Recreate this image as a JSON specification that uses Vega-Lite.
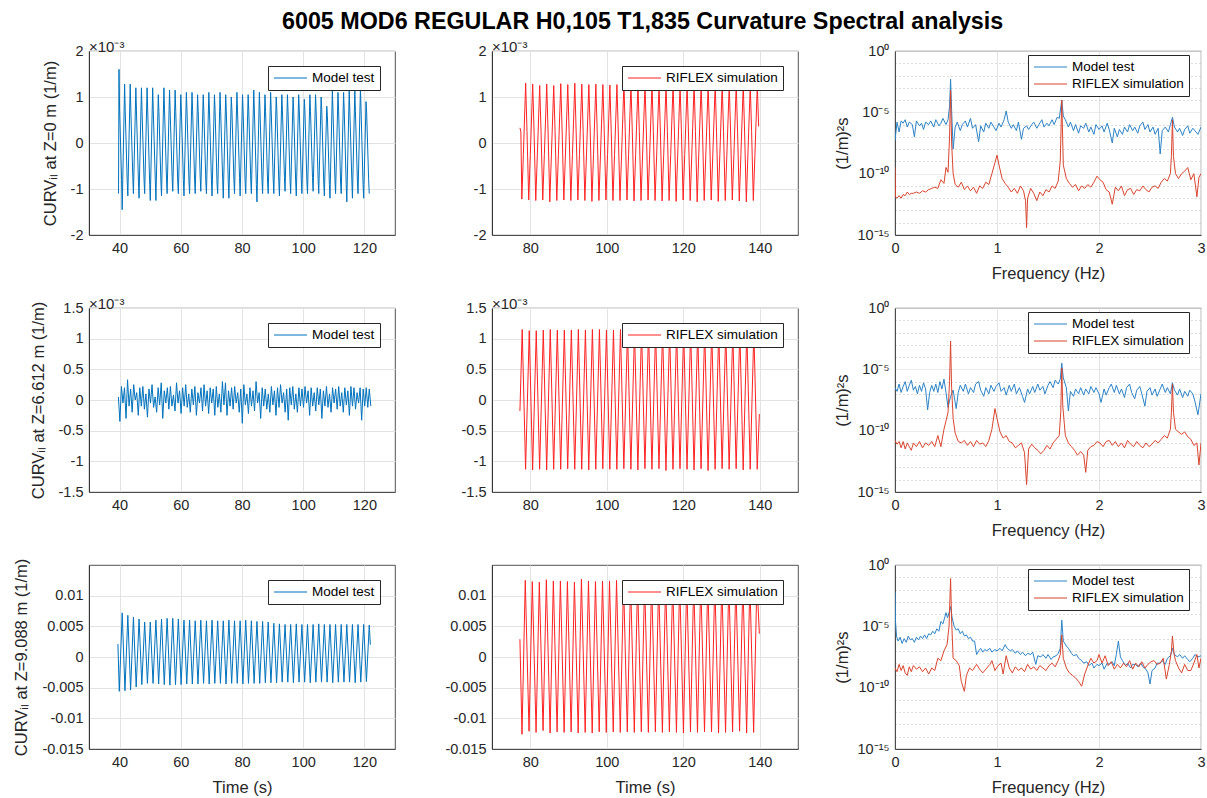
{
"$schema": "https://vega.github.io/schema/vega-lite/v6.json",
"padding": {"left": 13, "top": 10, "right": 5, "bottom": 5},
"background": "white",
"title": {"text": "6005 MOD6 REGULAR H0,105 T1,835 Curvature Spectral analysis", "anchor": "start", "frame": "group", "dx": 193, "dy": -1, "fontSize": 23.3, "fontWeight": "bold", "font": "Liberation Sans", "color": "#000000", "offset": 4},
"config": {
  "font": "Liberation Sans",
  "view": {"stroke": "#262626", "strokeWidth": 0.8},
  "axis": {"labelFont": "Liberation Sans", "labelFontSize": 14.5, "labelColor": "#262626", "titleFont": "Liberation Sans", "titleFontSize": 16.5, "titleFontWeight": "normal", "titleColor": "#262626", "domainColor": "#262626", "domainWidth": 0.8, "gridColor": "#e3e3e3", "gridWidth": 1, "ticks": false, "labelPadding": 6, "titlePadding": 5, "labelFlush": false, "labelOverlap": false},
  "axisX": {"titlePadding": 11},
  "axisY": {"titlePadding": 12},
  "legend": {"symbolType": "M-1,0H4.5", "symbolSize": 144, "symbolStrokeWidth": 1.2, "labelFont": "Liberation Sans", "labelFontSize": 13.5, "labelColor": "#000000", "strokeColor": "#262626", "fillColor": "white", "padding": 5, "rowPadding": 3, "labelOffset": 25, "labelLimit": 0},
  "title": {"font": "Liberation Sans"}
},
"resolve": {"scale": {"color": "independent"}, "legend": {"color": "independent"}},
"columns": 3,
"spacing": {"row": 73, "column": 97},
"bounds": "flush",
"datasets": {
"a": [
{"t":39.65,"v":-1.1},
{"t":39.8,"v":1.6},{"t":40.0,"v":0.72},{"t":40.65,"v":-0.8},{"t":40.85,"v":-1.45},
{"t":41.64,"v":1.28},{"t":41.84,"v":0.7},{"t":42.49,"v":-0.85},{"t":42.69,"v":-1.15},
{"t":43.47,"v":1.28},{"t":43.67,"v":0.72},{"t":44.32,"v":-0.75},{"t":44.52,"v":-1.1},
{"t":45.31,"v":1.2},{"t":45.51,"v":0.7},{"t":46.16,"v":-0.85},{"t":46.36,"v":-1.2},
{"t":47.14,"v":1.2},{"t":47.34,"v":0.68},{"t":47.99,"v":-0.8},{"t":48.19,"v":-1.1},
{"t":48.98,"v":1.2},{"t":49.18,"v":0.72},{"t":49.83,"v":-0.9},{"t":50.03,"v":-1.25},
{"t":50.81,"v":1.2},{"t":51.01,"v":0.7},{"t":51.66,"v":-0.8},{"t":51.86,"v":-1.25},
{"t":52.65,"v":1.05},{"t":52.85,"v":0.68},{"t":53.5,"v":-0.85},{"t":53.7,"v":-1.15},
{"t":54.48,"v":1.2},{"t":54.68,"v":0.72},{"t":55.33,"v":-0.8},{"t":55.53,"v":-1.1},
{"t":56.32,"v":1.15},{"t":56.52,"v":0.7},{"t":57.17,"v":-0.75},{"t":57.37,"v":-1.05},
{"t":58.15,"v":1.15},{"t":58.35,"v":0.68},{"t":59.0,"v":-0.85},{"t":59.2,"v":-1.1},
{"t":59.99,"v":1.05},{"t":60.19,"v":0.7},{"t":60.84,"v":-0.8},{"t":61.04,"v":-1.15},
{"t":61.82,"v":1.1},{"t":62.02,"v":0.72},{"t":62.67,"v":-0.85},{"t":62.87,"v":-1.1},
{"t":63.66,"v":1.1},{"t":63.86,"v":0.7},{"t":64.51,"v":-0.8},{"t":64.71,"v":-1.1},
{"t":65.49,"v":1.05},{"t":65.69,"v":0.68},{"t":66.34,"v":-0.75},{"t":66.54,"v":-1.05},
{"t":67.33,"v":1.05},{"t":67.53,"v":0.7},{"t":68.18,"v":-0.85},{"t":68.38,"v":-1.1},
{"t":69.16,"v":1.1},{"t":69.36,"v":0.72},{"t":70.01,"v":-0.8},{"t":70.21,"v":-1.15},
{"t":71.0,"v":1.05},{"t":71.2,"v":0.7},{"t":71.85,"v":-0.9},{"t":72.05,"v":-1.1},
{"t":72.83,"v":1.1},{"t":73.03,"v":0.68},{"t":73.68,"v":-0.8},{"t":73.88,"v":-1.2},
{"t":74.67,"v":1.05},{"t":74.87,"v":0.7},{"t":75.52,"v":-0.85},{"t":75.72,"v":-1.2},
{"t":76.5,"v":1.0},{"t":76.7,"v":0.72},{"t":77.35,"v":-0.8},{"t":77.55,"v":-1.1},
{"t":78.34,"v":1.1},{"t":78.54,"v":0.7},{"t":79.19,"v":-0.75},{"t":79.39,"v":-1.15},
{"t":80.17,"v":1.05},{"t":80.37,"v":0.68},{"t":81.02,"v":-0.85},{"t":81.22,"v":-1.1},
{"t":82.01,"v":1.05},{"t":82.21,"v":0.7},{"t":82.86,"v":-0.8},{"t":83.06,"v":-1.1},
{"t":83.84,"v":1.15},{"t":84.04,"v":0.72},{"t":84.69,"v":-0.9},{"t":84.89,"v":-1.28},
{"t":85.68,"v":1.1},{"t":85.88,"v":0.7},{"t":86.53,"v":-0.8},{"t":86.73,"v":-1.1},
{"t":87.51,"v":1.05},{"t":87.71,"v":0.68},{"t":88.36,"v":-0.85},{"t":88.56,"v":-1.1},
{"t":89.35,"v":1.1},{"t":89.55,"v":0.7},{"t":90.2,"v":-0.8},{"t":90.4,"v":-1.1},
{"t":91.18,"v":1.0},{"t":91.38,"v":0.72},{"t":92.03,"v":-0.85},{"t":92.23,"v":-1.15},
{"t":93.02,"v":1.05},{"t":93.22,"v":0.7},{"t":93.87,"v":-0.75},{"t":94.07,"v":-1.05},
{"t":94.85,"v":1.05},{"t":95.05,"v":0.68},{"t":95.7,"v":-0.8},{"t":95.9,"v":-1.1},
{"t":96.69,"v":1.0},{"t":96.89,"v":0.7},{"t":97.54,"v":-0.85},{"t":97.74,"v":-1.15},
{"t":98.52,"v":1.05},{"t":98.72,"v":0.72},{"t":99.37,"v":-0.8},{"t":99.57,"v":-1.1},
{"t":100.36,"v":0.95},{"t":100.56,"v":0.7},{"t":101.21,"v":-0.85},{"t":101.41,"v":-1.1},
{"t":102.19,"v":1.05},{"t":102.39,"v":0.68},{"t":103.04,"v":-0.75},{"t":103.24,"v":-1.05},
{"t":104.03,"v":1.05},{"t":104.23,"v":0.7},{"t":104.88,"v":-0.8},{"t":105.08,"v":-1.1},
{"t":105.86,"v":1.0},{"t":106.06,"v":0.72},{"t":106.71,"v":-0.85},{"t":106.91,"v":-1.15},
{"t":107.7,"v":0.8},{"t":107.9,"v":0.6},{"t":108.55,"v":-0.9},{"t":108.75,"v":-1.2},
{"t":109.53,"v":1.15},{"t":109.73,"v":0.7},{"t":110.38,"v":-0.8},{"t":110.58,"v":-1.1},
{"t":111.37,"v":1.1},{"t":111.57,"v":0.7},{"t":112.22,"v":-0.85},{"t":112.42,"v":-1.1},
{"t":113.2,"v":1.1},{"t":113.4,"v":0.72},{"t":114.05,"v":-0.9},{"t":114.25,"v":-1.28},
{"t":115.04,"v":1.15},{"t":115.24,"v":0.7},{"t":115.89,"v":-0.8},{"t":116.09,"v":-1.2},
{"t":116.87,"v":1.15},{"t":117.07,"v":0.68},{"t":117.72,"v":-0.85},{"t":117.92,"v":-1.1},
{"t":118.71,"v":1.2},{"t":118.91,"v":0.72},{"t":119.56,"v":-0.9},{"t":119.76,"v":-1.2},
{"t":120.54,"v":0.9},{"t":120.74,"v":0.65},{"t":121.39,"v":-0.8},{"t":121.59,"v":-1.1}
],
"b": [
{"t":77.32,"v":0.33},{"t":77.55,"v":0.24},{"t":77.8,"v":-1.22},{"t":78.2,"v":-0.25},
{"t":78.8,"v":1.3},{"t":79.15,"v":0.25},{"t":79.6,"v":-1.24},{"t":80.02,"v":-0.25},
{"t":80.64,"v":1.28},{"t":80.99,"v":0.26},{"t":81.44,"v":-1.25},{"t":81.86,"v":-0.24},
{"t":82.47,"v":1.25},{"t":82.82,"v":0.25},{"t":83.27,"v":-1.24},{"t":83.69,"v":-0.25},
{"t":84.31,"v":1.28},{"t":84.66,"v":0.24},{"t":85.11,"v":-1.28},{"t":85.53,"v":-0.26},
{"t":86.14,"v":1.25},{"t":86.49,"v":0.25},{"t":86.94,"v":-1.25},{"t":87.36,"v":-0.25},
{"t":87.98,"v":1.29},{"t":88.33,"v":0.26},{"t":88.78,"v":-1.24},{"t":89.2,"v":-0.24},
{"t":89.81,"v":1.27},{"t":90.16,"v":0.25},{"t":90.61,"v":-1.25},{"t":91.03,"v":-0.25},
{"t":91.65,"v":1.3},{"t":92.0,"v":0.24},{"t":92.45,"v":-1.24},{"t":92.87,"v":-0.25},
{"t":93.48,"v":1.28},{"t":93.83,"v":0.25},{"t":94.28,"v":-1.25},{"t":94.7,"v":-0.26},
{"t":95.32,"v":1.27},{"t":95.67,"v":0.26},{"t":96.12,"v":-1.27},{"t":96.54,"v":-0.25},
{"t":97.15,"v":1.28},{"t":97.5,"v":0.25},{"t":97.95,"v":-1.25},{"t":98.37,"v":-0.24},
{"t":98.99,"v":1.27},{"t":99.34,"v":0.24},{"t":99.79,"v":-1.24},{"t":100.21,"v":-0.25},
{"t":100.82,"v":1.26},{"t":101.17,"v":0.25},{"t":101.62,"v":-1.25},{"t":102.04,"v":-0.25},
{"t":102.66,"v":1.27},{"t":103.01,"v":0.26},{"t":103.46,"v":-1.25},{"t":103.88,"v":-0.26},
{"t":104.49,"v":1.31},{"t":104.84,"v":0.25},{"t":105.29,"v":-1.24},{"t":105.71,"v":-0.25},
{"t":106.33,"v":1.27},{"t":106.68,"v":0.24},{"t":107.13,"v":-1.26},{"t":107.55,"v":-0.25},
{"t":108.16,"v":1.28},{"t":108.51,"v":0.25},{"t":108.96,"v":-1.25},{"t":109.38,"v":-0.24},
{"t":110.0,"v":1.27},{"t":110.35,"v":0.26},{"t":110.8,"v":-1.24},{"t":111.22,"v":-0.25},
{"t":111.83,"v":1.28},{"t":112.18,"v":0.25},{"t":112.63,"v":-1.25},{"t":113.05,"v":-0.26},
{"t":113.67,"v":1.26},{"t":114.02,"v":0.24},{"t":114.47,"v":-1.26},{"t":114.89,"v":-0.25},
{"t":115.5,"v":1.27},{"t":115.85,"v":0.25},{"t":116.3,"v":-1.25},{"t":116.72,"v":-0.25},
{"t":117.34,"v":1.28},{"t":117.69,"v":0.26},{"t":118.14,"v":-1.27},{"t":118.56,"v":-0.24},
{"t":119.17,"v":1.27},{"t":119.52,"v":0.25},{"t":119.97,"v":-1.24},{"t":120.39,"v":-0.25},
{"t":121.01,"v":1.26},{"t":121.36,"v":0.24},{"t":121.81,"v":-1.25},{"t":122.23,"v":-0.26},
{"t":122.84,"v":1.28},{"t":123.19,"v":0.25},{"t":123.64,"v":-1.28},{"t":124.06,"v":-0.25},
{"t":124.68,"v":1.27},{"t":125.03,"v":0.26},{"t":125.48,"v":-1.25},{"t":125.9,"v":-0.25},
{"t":126.51,"v":1.26},{"t":126.86,"v":0.25},{"t":127.31,"v":-1.24},{"t":127.73,"v":-0.24},
{"t":128.35,"v":1.28},{"t":128.7,"v":0.24},{"t":129.15,"v":-1.27},{"t":129.57,"v":-0.25},
{"t":130.18,"v":1.27},{"t":130.53,"v":0.25},{"t":130.98,"v":-1.25},{"t":131.4,"v":-0.26},
{"t":132.02,"v":1.26},{"t":132.37,"v":0.26},{"t":132.82,"v":-1.24},{"t":133.24,"v":-0.25},
{"t":133.85,"v":1.28},{"t":134.2,"v":0.25},{"t":134.65,"v":-1.26},{"t":135.07,"v":-0.25},
{"t":135.69,"v":1.27},{"t":136.04,"v":0.24},{"t":136.49,"v":-1.28},{"t":136.91,"v":-0.24},
{"t":137.52,"v":1.26},{"t":137.87,"v":0.25},{"t":138.32,"v":-1.25},{"t":138.74,"v":-0.25},
{"t":139.36,"v":1.25},{"t":139.71,"v":0.36}
],
"c": [
{"t":39.6,"v":0.05},{"t":40.1,"v":-0.35},{"t":40.6,"v":0.22},{"t":41.1,"v":-0.05},{"t":41.6,"v":0.2},{"t":42.1,"v":-0.3},{"t":42.6,"v":0.33},{"t":43.1,"v":-0.1},{"t":43.6,"v":0.18},{"t":44.1,"v":-0.2},
{"t":44.6,"v":0.25},{"t":45.1,"v":0.0},{"t":45.6,"v":0.12},{"t":46.1,"v":-0.25},{"t":46.6,"v":0.2},{"t":47.1,"v":-0.1},{"t":47.6,"v":0.22},{"t":48.1,"v":-0.15},{"t":48.6,"v":0.1},{"t":49.1,"v":-0.28},
{"t":49.6,"v":0.18},{"t":50.1,"v":-0.05},{"t":50.6,"v":0.25},{"t":51.1,"v":-0.12},{"t":51.6,"v":0.05},{"t":52.1,"v":-0.2},{"t":52.6,"v":0.2},{"t":53.1,"v":-0.08},{"t":53.6,"v":0.28},{"t":54.1,"v":-0.3},
{"t":54.6,"v":0.15},{"t":55.1,"v":-0.05},{"t":55.6,"v":0.2},{"t":56.1,"v":-0.15},{"t":56.6,"v":0.22},{"t":57.1,"v":-0.1},{"t":57.6,"v":0.08},{"t":58.1,"v":-0.18},{"t":58.6,"v":0.28},{"t":59.1,"v":-0.05},
{"t":59.6,"v":0.15},{"t":60.1,"v":-0.22},{"t":60.6,"v":0.2},{"t":61.1,"v":-0.1},{"t":61.6,"v":0.25},{"t":62.1,"v":-0.12},{"t":62.6,"v":0.1},{"t":63.1,"v":-0.2},{"t":63.6,"v":0.18},{"t":64.1,"v":-0.08},
{"t":64.6,"v":0.22},{"t":65.1,"v":-0.25},{"t":65.6,"v":0.12},{"t":66.1,"v":-0.05},{"t":66.6,"v":0.2},{"t":67.1,"v":-0.18},{"t":67.6,"v":0.25},{"t":68.1,"v":-0.1},{"t":68.6,"v":0.15},{"t":69.1,"v":-0.22},
{"t":69.6,"v":0.2},{"t":70.1,"v":-0.05},{"t":70.6,"v":0.18},{"t":71.1,"v":-0.25},{"t":71.6,"v":0.22},{"t":72.1,"v":-0.12},{"t":72.6,"v":0.1},{"t":73.1,"v":-0.2},{"t":73.6,"v":0.3},{"t":74.1,"v":-0.08},
{"t":74.6,"v":0.28},{"t":75.1,"v":-0.25},{"t":75.6,"v":0.15},{"t":76.1,"v":-0.1},{"t":76.6,"v":0.2},{"t":77.1,"v":-0.15},{"t":77.6,"v":0.22},{"t":78.1,"v":-0.05},{"t":78.6,"v":0.12},{"t":79.1,"v":-0.2},
{"t":79.6,"v":0.18},{"t":80.1,"v":-0.38},{"t":80.6,"v":0.25},{"t":81.1,"v":-0.08},{"t":81.6,"v":0.1},{"t":82.1,"v":-0.22},{"t":82.6,"v":0.2},{"t":83.1,"v":-0.1},{"t":83.6,"v":0.15},{"t":84.1,"v":-0.18},
{"t":84.6,"v":0.3},{"t":85.1,"v":-0.05},{"t":85.6,"v":0.12},{"t":86.1,"v":-0.3},{"t":86.6,"v":0.2},{"t":87.1,"v":-0.1},{"t":87.6,"v":0.18},{"t":88.1,"v":-0.15},{"t":88.6,"v":0.1},{"t":89.1,"v":-0.2},
{"t":89.6,"v":0.22},{"t":90.1,"v":-0.08},{"t":90.6,"v":0.15},{"t":91.1,"v":-0.25},{"t":91.6,"v":0.2},{"t":92.1,"v":-0.12},{"t":92.6,"v":0.25},{"t":93.1,"v":-0.05},{"t":93.6,"v":0.12},{"t":94.1,"v":-0.2},
{"t":94.6,"v":0.18},{"t":95.1,"v":-0.33},{"t":95.6,"v":0.2},{"t":96.1,"v":-0.08},{"t":96.6,"v":0.22},{"t":97.1,"v":-0.15},{"t":97.6,"v":0.1},{"t":98.1,"v":-0.2},{"t":98.6,"v":0.2},{"t":99.1,"v":-0.1},
{"t":99.6,"v":0.18},{"t":100.1,"v":-0.12},{"t":100.6,"v":0.22},{"t":101.1,"v":-0.05},{"t":101.6,"v":0.15},{"t":102.1,"v":-0.25},{"t":102.6,"v":0.2},{"t":103.1,"v":-0.1},{"t":103.6,"v":0.12},{"t":104.1,"v":-0.18},
{"t":104.6,"v":0.2},{"t":105.1,"v":-0.08},{"t":105.6,"v":0.18},{"t":106.1,"v":-0.3},{"t":106.6,"v":0.15},{"t":107.1,"v":-0.1},{"t":107.6,"v":0.22},{"t":108.1,"v":-0.12},{"t":108.6,"v":0.1},{"t":109.1,"v":-0.2},
{"t":109.6,"v":0.2},{"t":110.1,"v":-0.05},{"t":110.6,"v":0.18},{"t":111.1,"v":-0.15},{"t":111.6,"v":0.22},{"t":112.1,"v":-0.1},{"t":112.6,"v":0.12},{"t":113.1,"v":-0.2},{"t":113.6,"v":0.2},{"t":114.1,"v":-0.08},
{"t":114.6,"v":0.15},{"t":115.1,"v":-0.25},{"t":115.6,"v":0.22},{"t":116.1,"v":-0.1},{"t":116.6,"v":0.2},{"t":117.1,"v":-0.15},{"t":117.6,"v":0.12},{"t":118.1,"v":-0.05},{"t":118.6,"v":0.2},{"t":119.1,"v":-0.33},
{"t":119.6,"v":0.18},{"t":120.1,"v":-0.1},{"t":120.6,"v":0.2},{"t":121.1,"v":-0.12},{"t":121.6,"v":0.18},{"t":122.1,"v":-0.1}
],
"d": [
{"t":77.3,"v":-0.18},
{"t":77.9,"v":1.15},{"t":78.78,"v":-1.13},{"t":79.74,"v":1.13},{"t":80.62,"v":-1.14},{"t":81.57,"v":1.13},{"t":82.45,"v":-1.13},{"t":83.41,"v":1.14},{"t":84.29,"v":-1.14},
{"t":85.24,"v":1.15},{"t":86.12,"v":-1.13},{"t":87.08,"v":1.14},{"t":87.96,"v":-1.13},{"t":88.91,"v":1.14},{"t":89.79,"v":-1.12},{"t":90.75,"v":1.14},{"t":91.63,"v":-1.13},
{"t":92.58,"v":1.15},{"t":93.46,"v":-1.13},{"t":94.42,"v":1.14},{"t":95.3,"v":-1.14},{"t":96.25,"v":1.15},{"t":97.13,"v":-1.13},{"t":98.09,"v":1.15},{"t":98.97,"v":-1.12},
{"t":99.92,"v":1.14},{"t":100.8,"v":-1.13},{"t":101.76,"v":1.14},{"t":102.64,"v":-1.13},{"t":103.59,"v":1.15},{"t":104.47,"v":-1.12},{"t":105.43,"v":1.14},{"t":106.31,"v":-1.13},
{"t":107.26,"v":1.14},{"t":108.14,"v":-1.14},{"t":109.1,"v":1.15},{"t":109.98,"v":-1.12},{"t":110.93,"v":1.14},{"t":111.81,"v":-1.13},{"t":112.77,"v":1.14},{"t":113.65,"v":-1.12},
{"t":114.6,"v":1.15},{"t":115.48,"v":-1.15},{"t":116.44,"v":1.14},{"t":117.32,"v":-1.13},{"t":118.27,"v":1.14},{"t":119.15,"v":-1.12},{"t":120.11,"v":1.15},{"t":120.99,"v":-1.13},
{"t":121.94,"v":1.14},{"t":122.82,"v":-1.14},{"t":123.78,"v":1.14},{"t":124.66,"v":-1.12},{"t":125.61,"v":1.15},{"t":126.49,"v":-1.15},{"t":127.45,"v":1.14},{"t":128.33,"v":-1.13},
{"t":129.28,"v":1.14},{"t":130.16,"v":-1.12},{"t":131.12,"v":1.15},{"t":132.0,"v":-1.13},{"t":132.95,"v":1.14},{"t":133.83,"v":-1.12},{"t":134.79,"v":1.14},{"t":135.67,"v":-1.14},
{"t":136.62,"v":1.15},{"t":137.5,"v":-1.13},{"t":138.46,"v":1.14},{"t":139.34,"v":-1.13},
{"t":139.9,"v":-0.23}
],
"e": [
{"t":39.45,"v":0.0021},{"t":39.9,"v":-0.0056},
{"t":40.85,"v":0.0072},{"t":41.75,"v":-0.0055},{"t":42.69,"v":0.0068},{"t":43.59,"v":-0.0054},{"t":44.52,"v":0.0065},{"t":45.42,"v":-0.0049},
{"t":46.36,"v":0.0062},{"t":47.26,"v":-0.0045},{"t":48.19,"v":0.0057},{"t":49.09,"v":-0.0043},{"t":50.03,"v":0.0057},{"t":50.93,"v":-0.0043},
{"t":51.86,"v":0.006},{"t":52.76,"v":-0.0044},{"t":53.7,"v":0.0062},{"t":54.6,"v":-0.0045},{"t":55.53,"v":0.0063},{"t":56.43,"v":-0.0046},
{"t":57.37,"v":0.0063},{"t":58.27,"v":-0.0045},{"t":59.2,"v":0.0062},{"t":60.1,"v":-0.0045},{"t":61.04,"v":0.006},{"t":61.94,"v":-0.0044},
{"t":62.87,"v":0.006},{"t":63.77,"v":-0.0044},{"t":64.71,"v":0.0059},{"t":65.61,"v":-0.0044},{"t":66.54,"v":0.006},{"t":67.44,"v":-0.0043},
{"t":68.38,"v":0.0059},{"t":69.28,"v":-0.0044},{"t":70.21,"v":0.006},{"t":71.11,"v":-0.0043},{"t":72.05,"v":0.0059},{"t":72.95,"v":-0.0043},
{"t":73.88,"v":0.0059},{"t":74.78,"v":-0.0044},{"t":75.72,"v":0.006},{"t":76.62,"v":-0.0043},{"t":77.55,"v":0.0059},{"t":78.45,"v":-0.0043},
{"t":79.39,"v":0.0059},{"t":80.29,"v":-0.0044},{"t":81.22,"v":0.006},{"t":82.12,"v":-0.0043},{"t":83.06,"v":0.0059},{"t":83.96,"v":-0.0043},
{"t":84.89,"v":0.0058},{"t":85.79,"v":-0.0043},{"t":86.73,"v":0.0058},{"t":87.63,"v":-0.0042},{"t":88.56,"v":0.0057},{"t":89.46,"v":-0.0042},
{"t":90.4,"v":0.0055},{"t":91.3,"v":-0.0042},{"t":92.23,"v":0.0054},{"t":93.13,"v":-0.0041},{"t":94.07,"v":0.0053},{"t":94.97,"v":-0.0041},
{"t":95.9,"v":0.0053},{"t":96.8,"v":-0.0042},{"t":97.74,"v":0.0054},{"t":98.64,"v":-0.0041},{"t":99.57,"v":0.0053},{"t":100.47,"v":-0.0041},
{"t":101.41,"v":0.0053},{"t":102.31,"v":-0.0042},{"t":103.24,"v":0.0053},{"t":104.14,"v":-0.0041},{"t":105.08,"v":0.0054},{"t":105.98,"v":-0.0041},
{"t":106.91,"v":0.0053},{"t":107.81,"v":-0.0041},{"t":108.75,"v":0.0053},{"t":109.65,"v":-0.0042},{"t":110.58,"v":0.0053},{"t":111.48,"v":-0.0041},
{"t":112.42,"v":0.0053},{"t":113.32,"v":-0.0041},{"t":114.25,"v":0.0053},{"t":115.15,"v":-0.0041},{"t":116.09,"v":0.0053},{"t":116.99,"v":-0.0042},
{"t":117.92,"v":0.0053},{"t":118.82,"v":-0.0041},{"t":119.76,"v":0.0053},{"t":120.66,"v":-0.004},{"t":121.59,"v":0.0052},{"t":121.95,"v":0.002}
],
"f": [
{"t":77.3,"v":0.0029},{"t":77.84,"v":-0.0126},
{"t":78.7,"v":0.0125},{"t":79.68,"v":-0.0121},{"t":80.54,"v":0.0123},{"t":81.52,"v":-0.0123},{"t":82.37,"v":0.0122},{"t":83.35,"v":-0.012},
{"t":84.21,"v":0.0126},{"t":85.19,"v":-0.0124},{"t":86.04,"v":0.0124},{"t":87.02,"v":-0.0122},{"t":87.88,"v":0.0124},{"t":88.86,"v":-0.0123},
{"t":89.71,"v":0.0123},{"t":90.69,"v":-0.0122},{"t":91.55,"v":0.0122},{"t":92.53,"v":-0.0124},{"t":93.38,"v":0.0127},{"t":94.36,"v":-0.0123},
{"t":95.22,"v":0.0124},{"t":96.2,"v":-0.0124},{"t":97.05,"v":0.0123},{"t":98.03,"v":-0.0122},{"t":98.89,"v":0.0124},{"t":99.87,"v":-0.0123},
{"t":100.72,"v":0.0124},{"t":101.7,"v":-0.0122},{"t":102.56,"v":0.0125},{"t":103.54,"v":-0.0123},{"t":104.39,"v":0.0123},{"t":105.37,"v":-0.0122},
{"t":106.23,"v":0.0124},{"t":107.21,"v":-0.0123},{"t":108.06,"v":0.0123},{"t":109.04,"v":-0.0122},{"t":109.9,"v":0.0124},{"t":110.88,"v":-0.0123},
{"t":111.73,"v":0.0123},{"t":112.71,"v":-0.0122},{"t":113.57,"v":0.0124},{"t":114.55,"v":-0.0123},{"t":115.4,"v":0.0123},{"t":116.38,"v":-0.0122},
{"t":117.24,"v":0.0124},{"t":118.22,"v":-0.0123},{"t":119.07,"v":0.0123},{"t":120.05,"v":-0.0124},{"t":120.91,"v":0.0124},{"t":121.89,"v":-0.0122},
{"t":122.74,"v":0.0123},{"t":123.72,"v":-0.0123},{"t":124.58,"v":0.0124},{"t":125.56,"v":-0.0122},{"t":126.41,"v":0.0123},{"t":127.39,"v":-0.0122},
{"t":128.25,"v":0.0124},{"t":129.23,"v":-0.0124},{"t":130.08,"v":0.0123},{"t":131.06,"v":-0.0123},{"t":131.92,"v":0.0124},{"t":132.9,"v":-0.0122},
{"t":133.75,"v":0.0123},{"t":134.73,"v":-0.0121},{"t":135.59,"v":0.0124},{"t":136.57,"v":-0.0124},{"t":137.42,"v":0.0123},{"t":138.4,"v":-0.0123},
{"t":139.26,"v":0.0123},{"t":139.9,"v":0.0038}
],
"s1m": [
{"f":0.0,"p":5e-8},{"f":0.02,"p":1.6e-6},{"f":0.04,"p":2.5e-7},{"f":0.06,"p":2e-6},{"f":0.08,"p":1.3e-6},{"f":0.1,"p":2.5e-6},{"f":0.12,"p":6.3e-7},{"f":0.14,"p":1.6e-6},{"f":0.17,"p":1e-6},{"f":0.19,"p":1e-7},
{"f":0.21,"p":2e-6},{"f":0.24,"p":7.9e-7},{"f":0.26,"p":1.3e-6},{"f":0.28,"p":4e-7},{"f":0.3,"p":1.6e-6},{"f":0.33,"p":1e-6},{"f":0.35,"p":2e-6},{"f":0.38,"p":6.3e-7},{"f":0.4,"p":2.5e-6},{"f":0.43,"p":7.9e-7},
{"f":0.45,"p":1.3e-6},{"f":0.47,"p":3.2e-6},{"f":0.5,"p":1e-6},{"f":0.52,"p":2.5e-6},{"f":0.535,"p":3.2e-5},{"f":0.545,"p":5e-3},{"f":0.555,"p":1.6e-5},{"f":0.57,"p":1e-8},{"f":0.59,"p":6.3e-7},{"f":0.61,"p":1.6e-6},
{"f":0.64,"p":3.2e-7},{"f":0.66,"p":1e-6},{"f":0.69,"p":2e-6},{"f":0.71,"p":6.3e-7},{"f":0.74,"p":3.2e-6},{"f":0.76,"p":5e-7},{"f":0.79,"p":1e-6},{"f":0.82,"p":4e-8},{"f":0.84,"p":7.9e-7},{"f":0.87,"p":2.5e-7},
{"f":0.89,"p":1.3e-6},{"f":0.92,"p":5e-7},{"f":0.94,"p":1.6e-6},{"f":0.97,"p":6.3e-7},{"f":0.99,"p":3.2e-7},{"f":1.02,"p":1.3e-6},{"f":1.04,"p":6.3e-7},{"f":1.07,"p":2.5e-6},{"f":1.09,"p":1.3e-5},{"f":1.11,"p":1.6e-6},
{"f":1.14,"p":5e-7},{"f":1.16,"p":1e-6},{"f":1.19,"p":3.2e-7},{"f":1.21,"p":1.6e-6},{"f":1.24,"p":6.3e-8},{"f":1.26,"p":5e-7},{"f":1.29,"p":7.9e-7},{"f":1.31,"p":4e-7},{"f":1.34,"p":1e-6},{"f":1.36,"p":1.6e-6},
{"f":1.39,"p":5e-7},{"f":1.41,"p":1e-6},{"f":1.44,"p":2.5e-6},{"f":1.46,"p":6.3e-7},{"f":1.49,"p":1.3e-6},{"f":1.51,"p":7.9e-7},{"f":1.54,"p":2.5e-6},{"f":1.56,"p":1e-6},{"f":1.59,"p":4e-6},{"f":1.61,"p":3.2e-6},
{"f":1.635,"p":1e-4},{"f":1.65,"p":5e-6},{"f":1.67,"p":2.5e-6},{"f":1.7,"p":6.3e-7},{"f":1.72,"p":1.6e-6},{"f":1.75,"p":3.2e-7},{"f":1.77,"p":1e-6},{"f":1.8,"p":2e-7},{"f":1.82,"p":7.9e-7},{"f":1.85,"p":5e-7},
{"f":1.87,"p":1.3e-6},{"f":1.9,"p":2.5e-7},{"f":1.92,"p":6.3e-7},{"f":1.95,"p":1.6e-7},{"f":1.97,"p":1e-6},{"f":2.0,"p":4e-7},{"f":2.03,"p":7.9e-7},{"f":2.05,"p":2.5e-7},{"f":2.08,"p":1.3e-6},{"f":2.1,"p":4e-7},
{"f":2.13,"p":3.2e-8},{"f":2.15,"p":5e-7},{"f":2.18,"p":1e-7},{"f":2.2,"p":4e-7},{"f":2.23,"p":1.6e-7},{"f":2.25,"p":6.3e-7},{"f":2.28,"p":2.5e-7},{"f":2.3,"p":1e-6},{"f":2.33,"p":3.2e-7},{"f":2.35,"p":6.3e-7},
{"f":2.38,"p":2e-7},{"f":2.4,"p":7.9e-7},{"f":2.43,"p":1.6e-6},{"f":2.45,"p":4e-7},{"f":2.48,"p":1e-6},{"f":2.5,"p":2.5e-7},{"f":2.53,"p":6.3e-7},{"f":2.55,"p":1.6e-7},{"f":2.58,"p":5e-7},{"f":2.6,"p":4e-9},
{"f":2.62,"p":3.2e-7},{"f":2.65,"p":6.3e-7},{"f":2.68,"p":2.5e-7},{"f":2.7,"p":1e-6},{"f":2.72,"p":4e-6},{"f":2.74,"p":6.3e-7},{"f":2.77,"p":2.5e-7},{"f":2.79,"p":5e-7},{"f":2.82,"p":1.3e-7},{"f":2.84,"p":4e-7},
{"f":2.87,"p":7.9e-7},{"f":2.89,"p":2e-7},{"f":2.92,"p":5e-7},{"f":2.94,"p":3.2e-7},{"f":2.97,"p":1.6e-7},{"f":3.0,"p":6.3e-7}
],
"s1r": [
{"f":0.0,"p":3.2e-10},{"f":0.005,"p":1.3e-12},{"f":0.02,"p":1e-12},{"f":0.04,"p":1.6e-12},{"f":0.06,"p":1e-12},{"f":0.08,"p":2e-12},{"f":0.1,"p":1.6e-12},{"f":0.12,"p":3.2e-12},{"f":0.14,"p":2e-12},{"f":0.16,"p":2.5e-12},
{"f":0.18,"p":2.5e-12},{"f":0.21,"p":3.2e-12},{"f":0.24,"p":2.5e-12},{"f":0.27,"p":4e-12},{"f":0.3,"p":3.2e-12},{"f":0.33,"p":5e-12},{"f":0.36,"p":6.3e-12},{"f":0.39,"p":7.9e-12},{"f":0.42,"p":6.3e-12},{"f":0.45,"p":3.2e-11},
{"f":0.48,"p":1.6e-11},{"f":0.5,"p":3.2e-10},{"f":0.52,"p":1.3e-10},{"f":0.535,"p":1e-7},{"f":0.545,"p":6.3e-4},{"f":0.555,"p":3.2e-8},{"f":0.57,"p":1e-10},{"f":0.59,"p":1.3e-11},{"f":0.62,"p":7.9e-12},{"f":0.65,"p":2e-11},
{"f":0.68,"p":5e-12},{"f":0.71,"p":1e-11},{"f":0.74,"p":4e-12},{"f":0.77,"p":7.9e-12},{"f":0.8,"p":2.5e-12},{"f":0.83,"p":1e-11},{"f":0.86,"p":6.3e-12},{"f":0.89,"p":2e-11},{"f":0.92,"p":1.3e-11},{"f":0.95,"p":1e-10},
{"f":0.98,"p":7.9e-10},{"f":1.0,"p":3.2e-9},{"f":1.02,"p":5e-10},{"f":1.05,"p":4e-11},{"f":1.08,"p":1.6e-11},{"f":1.11,"p":7.9e-12},{"f":1.14,"p":3.2e-12},{"f":1.17,"p":6.3e-12},{"f":1.2,"p":2.5e-12},{"f":1.23,"p":1e-11},
{"f":1.26,"p":4e-12},{"f":1.28,"p":6.3e-13},{"f":1.29,"p":4e-15},{"f":1.3,"p":1e-12},{"f":1.33,"p":6.3e-12},{"f":1.36,"p":2.5e-12},{"f":1.39,"p":6.3e-13},{"f":1.42,"p":3.2e-12},{"f":1.45,"p":1.6e-12},{"f":1.48,"p":5e-12},
{"f":1.51,"p":3.2e-12},{"f":1.54,"p":1e-11},{"f":1.57,"p":6.3e-12},{"f":1.6,"p":2.5e-11},{"f":1.62,"p":1e-9},{"f":1.635,"p":1e-4},{"f":1.65,"p":5e-10},{"f":1.68,"p":4e-11},{"f":1.71,"p":1.6e-11},{"f":1.74,"p":7.9e-12},
{"f":1.77,"p":1.3e-11},{"f":1.8,"p":4e-12},{"f":1.83,"p":1e-11},{"f":1.86,"p":6.3e-12},{"f":1.89,"p":1.3e-11},{"f":1.92,"p":7.9e-12},{"f":1.95,"p":2e-11},{"f":1.98,"p":6.3e-11},{"f":2.01,"p":3.2e-11},{"f":2.04,"p":2e-11},
{"f":2.07,"p":5e-12},{"f":2.1,"p":3.2e-12},{"f":2.13,"p":3.2e-13},{"f":2.16,"p":7.9e-12},{"f":2.19,"p":4e-12},{"f":2.22,"p":1e-11},{"f":2.25,"p":1.6e-12},{"f":2.28,"p":5e-12},{"f":2.31,"p":6.3e-12},{"f":2.34,"p":2e-12},
{"f":2.37,"p":5e-12},{"f":2.4,"p":4e-12},{"f":2.43,"p":1e-11},{"f":2.46,"p":5e-12},{"f":2.49,"p":3.2e-12},{"f":2.52,"p":7.9e-12},{"f":2.55,"p":1e-11},{"f":2.58,"p":6.3e-12},{"f":2.61,"p":2e-11},{"f":2.64,"p":4e-11},
{"f":2.67,"p":2.5e-11},{"f":2.7,"p":1e-10},{"f":2.71,"p":3.2e-9},{"f":2.72,"p":2.5e-6},{"f":2.73,"p":2.5e-9},{"f":2.75,"p":1e-10},{"f":2.78,"p":4e-11},{"f":2.81,"p":1e-10},{"f":2.84,"p":1.6e-10},{"f":2.87,"p":3.2e-10},
{"f":2.9,"p":3.2e-11},{"f":2.93,"p":1e-10},{"f":2.96,"p":1.3e-12},{"f":2.98,"p":5e-11},{"f":3.0,"p":1e-10}
],
"s2m": [
{"f":0.0,"p":3.2e-7},{"f":0.02,"p":1.6e-7},{"f":0.04,"p":6.3e-7},{"f":0.06,"p":1.3e-7},{"f":0.08,"p":4e-7},{"f":0.1,"p":1e-6},{"f":0.12,"p":1.6e-7},{"f":0.14,"p":5e-7},{"f":0.16,"p":1.3e-6},{"f":0.18,"p":2e-7},
{"f":0.2,"p":4e-7},{"f":0.22,"p":1e-7},{"f":0.24,"p":5e-7},{"f":0.26,"p":1.6e-7},{"f":0.28,"p":7.9e-7},{"f":0.3,"p":2.5e-7},{"f":0.32,"p":5e-9},{"f":0.34,"p":1.3e-7},{"f":0.36,"p":5e-7},{"f":0.38,"p":1.6e-7},
{"f":0.4,"p":6.3e-7},{"f":0.42,"p":1.3e-7},{"f":0.44,"p":1e-6},{"f":0.46,"p":2.5e-7},{"f":0.48,"p":1.6e-6},{"f":0.5,"p":1.3e-7},{"f":0.52,"p":7.9e-9},{"f":0.545,"p":6.3e-8},{"f":0.57,"p":2e-7},{"f":0.6,"p":6.3e-9},
{"f":0.62,"p":1.3e-7},{"f":0.64,"p":5e-7},{"f":0.67,"p":1.6e-7},{"f":0.69,"p":6.3e-7},{"f":0.72,"p":1e-7},{"f":0.74,"p":3.2e-7},{"f":0.77,"p":1.3e-7},{"f":0.79,"p":6.3e-7},{"f":0.82,"p":1e-6},{"f":0.84,"p":2e-7},
{"f":0.87,"p":6.3e-8},{"f":0.89,"p":3.2e-7},{"f":0.92,"p":1e-7},{"f":0.94,"p":5e-7},{"f":0.97,"p":1.6e-7},{"f":0.99,"p":4e-7},{"f":1.02,"p":7.9e-7},{"f":1.04,"p":1.6e-7},{"f":1.07,"p":3.2e-7},{"f":1.09,"p":7.9e-8},
{"f":1.12,"p":5e-7},{"f":1.14,"p":1.6e-7},{"f":1.17,"p":6.3e-7},{"f":1.19,"p":1e-7},{"f":1.22,"p":3.2e-7},{"f":1.25,"p":6.3e-8},{"f":1.27,"p":2e-8},{"f":1.3,"p":2.5e-7},{"f":1.32,"p":1e-7},{"f":1.35,"p":4e-7},
{"f":1.37,"p":1.3e-7},{"f":1.4,"p":6.3e-7},{"f":1.42,"p":2e-7},{"f":1.45,"p":4e-7},{"f":1.47,"p":1e-7},{"f":1.5,"p":5e-7},{"f":1.52,"p":1e-6},{"f":1.55,"p":3.2e-7},{"f":1.57,"p":1.3e-6},{"f":1.6,"p":6.3e-7},
{"f":1.62,"p":1.6e-6},{"f":1.635,"p":3.2e-5},{"f":1.65,"p":2e-6},{"f":1.68,"p":3.2e-7},{"f":1.7,"p":4e-9},{"f":1.72,"p":1.6e-7},{"f":1.75,"p":6.3e-8},{"f":1.77,"p":2.5e-7},{"f":1.8,"p":1e-7},{"f":1.82,"p":3.2e-7},
{"f":1.85,"p":7.9e-8},{"f":1.87,"p":2.5e-7},{"f":1.9,"p":1e-7},{"f":1.92,"p":4e-7},{"f":1.95,"p":1.3e-7},{"f":1.97,"p":3.2e-7},{"f":2.0,"p":1e-7},{"f":2.02,"p":2e-8},{"f":2.05,"p":2.5e-7},{"f":2.07,"p":7.9e-8},
{"f":2.1,"p":3.2e-7},{"f":2.12,"p":6.3e-7},{"f":2.15,"p":1.3e-7},{"f":2.17,"p":5e-7},{"f":2.2,"p":1e-7},{"f":2.22,"p":2.5e-7},{"f":2.25,"p":5e-8},{"f":2.27,"p":3.2e-7},{"f":2.3,"p":6.3e-7},{"f":2.32,"p":1.3e-7},
{"f":2.35,"p":4e-8},{"f":2.37,"p":2e-7},{"f":2.4,"p":4e-7},{"f":2.42,"p":1e-7},{"f":2.45,"p":1e-8},{"f":2.47,"p":1.6e-7},{"f":2.5,"p":3.2e-7},{"f":2.52,"p":7.9e-8},{"f":2.55,"p":2.5e-7},{"f":2.57,"p":6.3e-8},
{"f":2.6,"p":2.5e-7},{"f":2.62,"p":6.3e-7},{"f":2.65,"p":1.3e-7},{"f":2.67,"p":3.2e-7},{"f":2.7,"p":1e-7},{"f":2.72,"p":7.9e-7},{"f":2.74,"p":2e-7},{"f":2.77,"p":7.9e-8},{"f":2.79,"p":2.5e-7},{"f":2.82,"p":5e-8},
{"f":2.84,"p":1.6e-7},{"f":2.87,"p":6.3e-8},{"f":2.89,"p":2e-7},{"f":2.92,"p":1e-7},{"f":2.94,"p":2.5e-8},{"f":2.97,"p":2e-9},{"f":3.0,"p":1e-7}
],
"s2r": [
{"f":0.0,"p":1.6e-11},{"f":0.02,"p":7.9e-12},{"f":0.04,"p":1.3e-11},{"f":0.06,"p":4e-12},{"f":0.08,"p":1.3e-11},{"f":0.1,"p":3.2e-12},{"f":0.12,"p":1e-11},{"f":0.14,"p":5e-12},{"f":0.16,"p":2.5e-12},{"f":0.18,"p":1e-11},
{"f":0.21,"p":5e-12},{"f":0.24,"p":1.3e-11},{"f":0.27,"p":4e-12},{"f":0.3,"p":1e-11},{"f":0.33,"p":6.3e-12},{"f":0.36,"p":1.3e-11},{"f":0.39,"p":5e-12},{"f":0.42,"p":4e-11},{"f":0.45,"p":5e-12},{"f":0.48,"p":1.3e-10},
{"f":0.5,"p":6.3e-10},{"f":0.52,"p":3.2e-9},{"f":0.535,"p":1e-6},{"f":0.545,"p":2e-3},{"f":0.555,"p":3.2e-7},{"f":0.57,"p":1e-9},{"f":0.59,"p":6.3e-11},{"f":0.62,"p":1.3e-11},{"f":0.65,"p":1e-11},{"f":0.68,"p":1.6e-11},
{"f":0.71,"p":6.3e-12},{"f":0.74,"p":1.3e-11},{"f":0.77,"p":5e-12},{"f":0.8,"p":1.6e-11},{"f":0.83,"p":7.9e-12},{"f":0.86,"p":1e-11},{"f":0.89,"p":5e-12},{"f":0.92,"p":1.6e-11},{"f":0.95,"p":1.3e-10},{"f":0.98,"p":6.3e-9},
{"f":1.0,"p":1e-9},{"f":1.03,"p":7.9e-11},{"f":1.06,"p":2.5e-11},{"f":1.09,"p":4e-11},{"f":1.12,"p":1.3e-11},{"f":1.15,"p":1e-11},{"f":1.18,"p":4e-12},{"f":1.21,"p":6.3e-12},{"f":1.24,"p":1e-11},{"f":1.27,"p":1.6e-12},
{"f":1.29,"p":4e-15},{"f":1.31,"p":3.2e-12},{"f":1.34,"p":7.9e-12},{"f":1.37,"p":4e-12},{"f":1.4,"p":2.5e-12},{"f":1.43,"p":1.3e-12},{"f":1.46,"p":2.5e-12},{"f":1.49,"p":6.3e-12},{"f":1.52,"p":3.2e-12},{"f":1.55,"p":1e-11},
{"f":1.58,"p":2e-11},{"f":1.61,"p":4e-11},{"f":1.625,"p":3.2e-9},{"f":1.635,"p":1.3e-5},{"f":1.645,"p":1e-8},{"f":1.67,"p":4e-11},{"f":1.7,"p":1e-11},{"f":1.73,"p":5e-12},{"f":1.76,"p":2.5e-12},{"f":1.79,"p":1e-12},
{"f":1.82,"p":2e-12},{"f":1.85,"p":1e-12},{"f":1.87,"p":4e-14},{"f":1.89,"p":2.5e-12},{"f":1.92,"p":5e-12},{"f":1.95,"p":6.3e-12},{"f":1.98,"p":1.3e-11},{"f":2.01,"p":1e-11},{"f":2.04,"p":5e-12},{"f":2.07,"p":1.3e-11},
{"f":2.1,"p":1.6e-11},{"f":2.13,"p":6.3e-12},{"f":2.16,"p":1.3e-11},{"f":2.19,"p":5e-12},{"f":2.22,"p":1e-11},{"f":2.25,"p":4e-12},{"f":2.28,"p":1.6e-11},{"f":2.31,"p":7.9e-12},{"f":2.34,"p":5e-12},{"f":2.37,"p":1.3e-11},
{"f":2.4,"p":6.3e-12},{"f":2.43,"p":4e-12},{"f":2.46,"p":1e-11},{"f":2.49,"p":5e-12},{"f":2.52,"p":7.9e-12},{"f":2.55,"p":1.6e-11},{"f":2.58,"p":1e-11},{"f":2.61,"p":2e-11},{"f":2.64,"p":4e-11},{"f":2.67,"p":2.5e-11},
{"f":2.7,"p":1.3e-10},{"f":2.71,"p":3.2e-9},{"f":2.72,"p":6.3e-7},{"f":2.73,"p":3.2e-9},{"f":2.75,"p":1.3e-10},{"f":2.78,"p":7.9e-11},{"f":2.81,"p":5e-11},{"f":2.84,"p":7.9e-11},{"f":2.87,"p":3.2e-11},{"f":2.9,"p":2e-11},
{"f":2.93,"p":6.3e-12},{"f":2.96,"p":1e-11},{"f":2.98,"p":1.6e-13},{"f":3.0,"p":1e-11}
],
"s3m": [
{"f":0.0,"p":6.3e-3},{"f":0.005,"p":2.5e-5},{"f":0.015,"p":1.6e-6},{"f":0.03,"p":6.3e-7},{"f":0.05,"p":1.3e-6},{"f":0.07,"p":4e-7},{"f":0.09,"p":1e-6},{"f":0.11,"p":5e-7},{"f":0.13,"p":1.6e-6},{"f":0.15,"p":7.9e-7},
{"f":0.17,"p":1e-6},{"f":0.19,"p":5e-7},{"f":0.21,"p":1.3e-6},{"f":0.23,"p":7.9e-7},{"f":0.25,"p":1.6e-6},{"f":0.27,"p":1e-6},{"f":0.29,"p":2e-6},{"f":0.31,"p":1e-6},{"f":0.33,"p":2.5e-6},{"f":0.35,"p":2e-6},
{"f":0.37,"p":4e-6},{"f":0.39,"p":2.5e-6},{"f":0.41,"p":6.3e-6},{"f":0.43,"p":4e-6},{"f":0.45,"p":2.5e-5},{"f":0.47,"p":1.6e-5},{"f":0.49,"p":6.3e-5},{"f":0.5,"p":1.3e-4},{"f":0.515,"p":5e-5},{"f":0.53,"p":1.3e-4},
{"f":0.545,"p":4e-4},{"f":0.56,"p":5e-5},{"f":0.58,"p":1e-5},{"f":0.6,"p":5e-6},{"f":0.62,"p":6.3e-6},{"f":0.64,"p":2.5e-6},{"f":0.66,"p":4e-6},{"f":0.68,"p":1.6e-6},{"f":0.7,"p":2e-6},{"f":0.72,"p":1e-6},
{"f":0.74,"p":1.3e-6},{"f":0.76,"p":6.3e-7},{"f":0.78,"p":6.3e-7},{"f":0.8,"p":5e-8},{"f":0.82,"p":1e-7},{"f":0.84,"p":1.6e-7},{"f":0.86,"p":7.9e-8},{"f":0.88,"p":1.3e-7},{"f":0.9,"p":1e-7},{"f":0.93,"p":1.6e-7},
{"f":0.95,"p":7.9e-8},{"f":0.98,"p":1.3e-7},{"f":1.0,"p":1e-7},{"f":1.03,"p":1.6e-7},{"f":1.05,"p":1e-7},{"f":1.08,"p":3.2e-7},{"f":1.1,"p":1.6e-7},{"f":1.13,"p":1e-7},{"f":1.15,"p":1.3e-7},{"f":1.18,"p":6.3e-8},
{"f":1.2,"p":1e-7},{"f":1.23,"p":5e-8},{"f":1.25,"p":7.9e-8},{"f":1.28,"p":4e-8},{"f":1.3,"p":6.3e-8},{"f":1.33,"p":5e-8},{"f":1.35,"p":7.9e-8},{"f":1.38,"p":7.9e-9},{"f":1.4,"p":4e-8},{"f":1.43,"p":3.2e-8},
{"f":1.45,"p":5e-8},{"f":1.48,"p":2.5e-8},{"f":1.5,"p":5e-8},{"f":1.53,"p":2e-8},{"f":1.55,"p":3.2e-8},{"f":1.58,"p":4e-8},{"f":1.6,"p":6.3e-8},{"f":1.62,"p":1.6e-7},{"f":1.635,"p":3.2e-5},{"f":1.65,"p":6.3e-7},
{"f":1.68,"p":2.5e-7},{"f":1.7,"p":1.6e-7},{"f":1.73,"p":6.3e-8},{"f":1.75,"p":4e-8},{"f":1.78,"p":5e-8},{"f":1.8,"p":2.5e-8},{"f":1.83,"p":1.6e-8},{"f":1.85,"p":1e-8},{"f":1.88,"p":1.3e-8},{"f":1.9,"p":6.3e-9},
{"f":1.93,"p":1e-8},{"f":1.95,"p":4e-9},{"f":1.98,"p":7.9e-9},{"f":2.0,"p":6.3e-9},{"f":2.03,"p":1e-8},{"f":2.05,"p":3.2e-9},{"f":2.08,"p":1e-8},{"f":2.1,"p":7.9e-9},{"f":2.13,"p":1.3e-8},{"f":2.15,"p":6.3e-9},
{"f":2.17,"p":5e-8},{"f":2.19,"p":6.3e-7},{"f":2.21,"p":3.2e-8},{"f":2.23,"p":1.6e-8},{"f":2.26,"p":6.3e-9},{"f":2.28,"p":1e-8},{"f":2.31,"p":4e-9},{"f":2.33,"p":7.9e-9},{"f":2.36,"p":7.9e-9},{"f":2.38,"p":5e-9},
{"f":2.41,"p":1e-8},{"f":2.43,"p":5e-9},{"f":2.46,"p":3.2e-9},{"f":2.48,"p":1.6e-9},{"f":2.5,"p":2e-10},{"f":2.52,"p":2.5e-9},{"f":2.55,"p":4e-9},{"f":2.57,"p":1e-8},{"f":2.6,"p":1e-8},{"f":2.62,"p":1.6e-8},
{"f":2.65,"p":7.9e-9},{"f":2.67,"p":2.5e-8},{"f":2.7,"p":4e-8},{"f":2.72,"p":1.6e-7},{"f":2.74,"p":5e-8},{"f":2.77,"p":3.2e-8},{"f":2.79,"p":5e-8},{"f":2.82,"p":2.5e-8},{"f":2.84,"p":4e-8},{"f":2.87,"p":2e-8},
{"f":2.89,"p":1.3e-8},{"f":2.92,"p":2.5e-8},{"f":2.94,"p":5e-8},{"f":2.97,"p":3.2e-8},{"f":3.0,"p":4e-8}
],
"s3r": [
{"f":0.0,"p":4e-9},{"f":0.02,"p":2e-9},{"f":0.04,"p":7.9e-9},{"f":0.06,"p":2.5e-9},{"f":0.08,"p":6.3e-9},{"f":0.1,"p":1.6e-9},{"f":0.12,"p":1e-9},{"f":0.14,"p":5e-9},{"f":0.16,"p":2e-9},{"f":0.18,"p":6.3e-9},
{"f":0.21,"p":3.2e-9},{"f":0.24,"p":5e-9},{"f":0.27,"p":2e-9},{"f":0.3,"p":4e-9},{"f":0.33,"p":1.3e-9},{"f":0.36,"p":4e-9},{"f":0.39,"p":2.5e-9},{"f":0.42,"p":2.5e-8},{"f":0.45,"p":1.6e-8},{"f":0.48,"p":1e-7},
{"f":0.51,"p":3.2e-7},{"f":0.53,"p":1e-5},{"f":0.545,"p":7.9e-2},{"f":0.555,"p":3.2e-5},{"f":0.57,"p":2.5e-8},{"f":0.6,"p":1.6e-8},{"f":0.63,"p":6.3e-9},{"f":0.65,"p":3.2e-10},{"f":0.68,"p":5e-11},{"f":0.7,"p":1e-9},
{"f":0.73,"p":4e-9},{"f":0.76,"p":2.5e-9},{"f":0.8,"p":7.9e-9},{"f":0.83,"p":3.2e-9},{"f":0.86,"p":1.6e-9},{"f":0.9,"p":4e-9},{"f":0.93,"p":7.9e-9},{"f":0.95,"p":1.6e-8},{"f":0.98,"p":2.5e-9},{"f":1.01,"p":6.3e-9},
{"f":1.04,"p":1e-8},{"f":1.06,"p":1.3e-9},{"f":1.09,"p":4e-8},{"f":1.12,"p":4e-9},{"f":1.15,"p":1.6e-9},{"f":1.18,"p":5e-9},{"f":1.21,"p":2.5e-9},{"f":1.24,"p":4e-9},{"f":1.27,"p":2e-9},{"f":1.3,"p":7.9e-9},
{"f":1.33,"p":3.2e-9},{"f":1.36,"p":5e-9},{"f":1.39,"p":2.5e-9},{"f":1.42,"p":6.3e-9},{"f":1.45,"p":4e-9},{"f":1.48,"p":2.5e-9},{"f":1.51,"p":6.3e-9},{"f":1.54,"p":1e-8},{"f":1.57,"p":5e-9},{"f":1.6,"p":1.6e-8},
{"f":1.62,"p":5e-8},{"f":1.635,"p":2e-6},{"f":1.65,"p":2.5e-8},{"f":1.68,"p":4e-9},{"f":1.71,"p":1.6e-9},{"f":1.74,"p":1e-9},{"f":1.77,"p":6.3e-10},{"f":1.8,"p":3.2e-10},{"f":1.83,"p":1.3e-10},{"f":1.86,"p":1.3e-9},
{"f":1.89,"p":6.3e-9},{"f":1.92,"p":2.5e-8},{"f":1.95,"p":1e-8},{"f":1.98,"p":1.6e-8},{"f":2.0,"p":5e-8},{"f":2.03,"p":1e-8},{"f":2.06,"p":4e-8},{"f":2.09,"p":6.3e-9},{"f":2.12,"p":1.3e-8},{"f":2.15,"p":3.2e-9},
{"f":2.18,"p":7.9e-9},{"f":2.21,"p":4e-9},{"f":2.24,"p":1e-8},{"f":2.27,"p":5e-9},{"f":2.3,"p":1.6e-8},{"f":2.33,"p":3.2e-9},{"f":2.36,"p":1e-8},{"f":2.39,"p":5e-9},{"f":2.42,"p":1.3e-8},{"f":2.45,"p":4e-9},
{"f":2.48,"p":7.9e-9},{"f":2.51,"p":1.3e-8},{"f":2.54,"p":1.6e-8},{"f":2.57,"p":7.9e-9},{"f":2.6,"p":1e-8},{"f":2.63,"p":2.5e-8},{"f":2.66,"p":5e-10},{"f":2.69,"p":7.9e-9},{"f":2.71,"p":1e-7},{"f":2.72,"p":1.6e-6},
{"f":2.735,"p":6.3e-8},{"f":2.75,"p":1.6e-8},{"f":2.78,"p":4e-9},{"f":2.81,"p":1.6e-9},{"f":2.84,"p":7.9e-9},{"f":2.87,"p":2.5e-9},{"f":2.9,"p":2.5e-9},{"f":2.93,"p":1e-8},{"f":2.96,"p":5e-8},{"f":2.98,"p":4e-9},
{"f":3.0,"p":2.5e-8}
]
},
"concat": [
{
"width": 306, "height": 184,
"title": {"text": "×10⁻³", "anchor": "start", "frame": "group", "fontSize": 15, "fontWeight": "normal", "color": "#262626", "offset": 2, "dy": 26, "baseline": "alphabetic"},
"data": {"name": "a"},
"mark": {"type": "line", "strokeWidth": 1, "clip": true},
"encoding": {
"x": {"field": "t", "type": "quantitative", "scale": {"domain": [30, 130], "nice": false, "zero": false}, "axis": {"values": [40, 60, 80, 100, 120], "labelExpr": "'' + datum.value", "title": null}},
"y": {"field": "v", "type": "quantitative", "scale": {"domain": [-2, 2], "nice": false, "zero": false}, "axis": {"values": [-2, -1, 0, 1, 2], "labelExpr": "'' + datum.value", "title": "CURVᵢₗ at Z=0 m (1/m)"}},
"color": {"datum": "Model test", "scale": {"domain": ["Model test"], "range": ["#0072BD"]}, "legend": {"title": null, "orient": "top-right", "offset": 15, "symbolType": "M-1,0H4.5"}}
}
},
{
"width": 306, "height": 184,
"title": {"text": "×10⁻³", "anchor": "start", "frame": "group", "fontSize": 15, "fontWeight": "normal", "color": "#262626", "offset": 2, "dy": 26, "baseline": "alphabetic"},
"data": {"name": "b"},
"mark": {"type": "line", "strokeWidth": 1, "clip": true},
"encoding": {
"x": {"field": "t", "type": "quantitative", "scale": {"domain": [70, 150], "nice": false, "zero": false}, "axis": {"values": [80, 100, 120, 140], "labelExpr": "'' + datum.value", "title": null}},
"y": {"field": "v", "type": "quantitative", "scale": {"domain": [-2, 2], "nice": false, "zero": false}, "axis": {"values": [-2, -1, 0, 1, 2], "labelExpr": "'' + datum.value", "title": null}},
"color": {"datum": "RIFLEX simulation", "scale": {"domain": ["RIFLEX simulation"], "range": ["#FF2222"]}, "legend": {"title": null, "orient": "top-right", "offset": 15, "symbolType": "M-1,0H4.5"}}
}
},
{
"width": 306, "height": 184,
"layer": [
{
"data": {"name": "s1m"},
"mark": {"type": "line", "strokeWidth": 1, "clip": true},
"encoding": {
"x": {"field": "f", "type": "quantitative", "scale": {"domain": [0, 3], "nice": false, "zero": false}, "axis": {"values": [0, 1, 2, 3], "labelExpr": "'' + datum.value", "title": "Frequency (Hz)"}},
"y": {"field": "p", "type": "quantitative", "scale": {"type": "log", "domain": [1e-15, 1], "nice": false}, "axis": {"values": [1e-15, 1e-14, 1e-13, 1e-12, 1e-11, 1e-10, 1e-9, 1e-8, 1e-7, 1e-6, 1e-5, 1e-4, 1e-3, 1e-2, 1e-1, 1], "labelExpr": "datum.value > 0.5 ? '10⁰' : (datum.value > 5e-6 && datum.value < 5e-5) ? '10⁻⁵' : (datum.value > 5e-11 && datum.value < 5e-10) ? '10⁻¹⁰' : datum.value < 5e-15 ? '10⁻¹⁵' : ''", "title": "(1/m)²s", "titlePadding": 7, "gridDash": {"condition": {"test": "datum.value > 0.5 || (datum.value > 5e-6 && datum.value < 5e-5) || (datum.value > 5e-11 && datum.value < 5e-10) || datum.value < 5e-15", "value": [1, 0]}, "value": [1, 3]}, "gridColor": {"condition": {"test": "datum.value > 0.5 || (datum.value > 5e-6 && datum.value < 5e-5) || (datum.value > 5e-11 && datum.value < 5e-10) || datum.value < 5e-15", "value": "#e3e3e3"}, "value": "#b8b8b8"}}},
"color": {"datum": "Model test", "scale": {"domain": ["Model test", "RIFLEX simulation"], "range": ["#2B83C6", "#D9452E"]}, "legend": {"title": null, "orient": "none", "legendX": 133, "legendY": 4, "symbolType": "M-1,0H4.5"}}
}
},
{
"data": {"name": "s1r"},
"mark": {"type": "line", "strokeWidth": 1, "clip": true},
"encoding": {
"x": {"field": "f", "type": "quantitative"},
"y": {"field": "p", "type": "quantitative"},
"color": {"datum": "RIFLEX simulation"}
}
}
]
},
{
"width": 306, "height": 184,
"title": {"text": "×10⁻³", "anchor": "start", "frame": "group", "fontSize": 15, "fontWeight": "normal", "color": "#262626", "offset": 2, "dy": 26, "baseline": "alphabetic"},
"data": {"name": "c"},
"mark": {"type": "line", "strokeWidth": 1, "clip": true},
"encoding": {
"x": {"field": "t", "type": "quantitative", "scale": {"domain": [30, 130], "nice": false, "zero": false}, "axis": {"values": [40, 60, 80, 100, 120], "labelExpr": "'' + datum.value", "title": null}},
"y": {"field": "v", "type": "quantitative", "scale": {"domain": [-1.5, 1.5], "nice": false, "zero": false}, "axis": {"values": [-1.5, -1, -0.5, 0, 0.5, 1, 1.5], "labelExpr": "'' + datum.value", "title": "CURVᵢₗ at Z=6.612 m (1/m)"}},
"color": {"datum": "Model test", "scale": {"domain": ["Model test"], "range": ["#0072BD"]}, "legend": {"title": null, "orient": "top-right", "offset": 15, "symbolType": "M-1,0H4.5"}}
}
},
{
"width": 306, "height": 184,
"title": {"text": "×10⁻³", "anchor": "start", "frame": "group", "fontSize": 15, "fontWeight": "normal", "color": "#262626", "offset": 2, "dy": 26, "baseline": "alphabetic"},
"data": {"name": "d"},
"mark": {"type": "line", "strokeWidth": 1, "clip": true},
"encoding": {
"x": {"field": "t", "type": "quantitative", "scale": {"domain": [70, 150], "nice": false, "zero": false}, "axis": {"values": [80, 100, 120, 140], "labelExpr": "'' + datum.value", "title": null}},
"y": {"field": "v", "type": "quantitative", "scale": {"domain": [-1.5, 1.5], "nice": false, "zero": false}, "axis": {"values": [-1.5, -1, -0.5, 0, 0.5, 1, 1.5], "labelExpr": "'' + datum.value", "title": null}},
"color": {"datum": "RIFLEX simulation", "scale": {"domain": ["RIFLEX simulation"], "range": ["#FF2222"]}, "legend": {"title": null, "orient": "top-right", "offset": 15, "symbolType": "M-1,0H4.5"}}
}
},
{
"width": 306, "height": 184,
"layer": [
{
"data": {"name": "s2m"},
"mark": {"type": "line", "strokeWidth": 1, "clip": true},
"encoding": {
"x": {"field": "f", "type": "quantitative", "scale": {"domain": [0, 3], "nice": false, "zero": false}, "axis": {"values": [0, 1, 2, 3], "labelExpr": "'' + datum.value", "title": "Frequency (Hz)"}},
"y": {"field": "p", "type": "quantitative", "scale": {"type": "log", "domain": [1e-15, 1], "nice": false}, "axis": {"values": [1e-15, 1e-14, 1e-13, 1e-12, 1e-11, 1e-10, 1e-9, 1e-8, 1e-7, 1e-6, 1e-5, 1e-4, 1e-3, 1e-2, 1e-1, 1], "labelExpr": "datum.value > 0.5 ? '10⁰' : (datum.value > 5e-6 && datum.value < 5e-5) ? '10⁻⁵' : (datum.value > 5e-11 && datum.value < 5e-10) ? '10⁻¹⁰' : datum.value < 5e-15 ? '10⁻¹⁵' : ''", "title": "(1/m)²s", "titlePadding": 7, "gridDash": {"condition": {"test": "datum.value > 0.5 || (datum.value > 5e-6 && datum.value < 5e-5) || (datum.value > 5e-11 && datum.value < 5e-10) || datum.value < 5e-15", "value": [1, 0]}, "value": [1, 3]}, "gridColor": {"condition": {"test": "datum.value > 0.5 || (datum.value > 5e-6 && datum.value < 5e-5) || (datum.value > 5e-11 && datum.value < 5e-10) || datum.value < 5e-15", "value": "#e3e3e3"}, "value": "#b8b8b8"}}},
"color": {"datum": "Model test", "scale": {"domain": ["Model test", "RIFLEX simulation"], "range": ["#2B83C6", "#D9452E"]}, "legend": {"title": null, "orient": "none", "legendX": 133, "legendY": 4, "symbolType": "M-1,0H4.5"}}
}
},
{
"data": {"name": "s2r"},
"mark": {"type": "line", "strokeWidth": 1, "clip": true},
"encoding": {
"x": {"field": "f", "type": "quantitative"},
"y": {"field": "p", "type": "quantitative"},
"color": {"datum": "RIFLEX simulation"}
}
}
]
},
{
"width": 306, "height": 184,
"data": {"name": "e"},
"mark": {"type": "line", "strokeWidth": 1, "clip": true},
"encoding": {
"x": {"field": "t", "type": "quantitative", "scale": {"domain": [30, 130], "nice": false, "zero": false}, "axis": {"values": [40, 60, 80, 100, 120], "labelExpr": "'' + datum.value", "title": "Time (s)"}},
"y": {"field": "v", "type": "quantitative", "scale": {"domain": [-0.015, 0.015], "nice": false, "zero": false}, "axis": {"values": [-0.015, -0.01, -0.005, 0, 0.005, 0.01], "labelExpr": "'' + datum.value", "title": "CURVᵢₗ at Z=9.088 m (1/m)"}},
"color": {"datum": "Model test", "scale": {"domain": ["Model test"], "range": ["#0072BD"]}, "legend": {"title": null, "orient": "top-right", "offset": 15, "symbolType": "M-1,0H4.5"}}
}
},
{
"width": 306, "height": 184,
"data": {"name": "f"},
"mark": {"type": "line", "strokeWidth": 1, "clip": true},
"encoding": {
"x": {"field": "t", "type": "quantitative", "scale": {"domain": [70, 150], "nice": false, "zero": false}, "axis": {"values": [80, 100, 120, 140], "labelExpr": "'' + datum.value", "title": "Time (s)"}},
"y": {"field": "v", "type": "quantitative", "scale": {"domain": [-0.015, 0.015], "nice": false, "zero": false}, "axis": {"values": [-0.015, -0.01, -0.005, 0, 0.005, 0.01], "labelExpr": "'' + datum.value", "title": null}},
"color": {"datum": "RIFLEX simulation", "scale": {"domain": ["RIFLEX simulation"], "range": ["#FF2222"]}, "legend": {"title": null, "orient": "top-right", "offset": 15, "symbolType": "M-1,0H4.5"}}
}
},
{
"width": 306, "height": 184,
"layer": [
{
"data": {"name": "s3m"},
"mark": {"type": "line", "strokeWidth": 1, "clip": true},
"encoding": {
"x": {"field": "f", "type": "quantitative", "scale": {"domain": [0, 3], "nice": false, "zero": false}, "axis": {"values": [0, 1, 2, 3], "labelExpr": "'' + datum.value", "title": "Frequency (Hz)"}},
"y": {"field": "p", "type": "quantitative", "scale": {"type": "log", "domain": [1e-15, 1], "nice": false}, "axis": {"values": [1e-15, 1e-14, 1e-13, 1e-12, 1e-11, 1e-10, 1e-9, 1e-8, 1e-7, 1e-6, 1e-5, 1e-4, 1e-3, 1e-2, 1e-1, 1], "labelExpr": "datum.value > 0.5 ? '10⁰' : (datum.value > 5e-6 && datum.value < 5e-5) ? '10⁻⁵' : (datum.value > 5e-11 && datum.value < 5e-10) ? '10⁻¹⁰' : datum.value < 5e-15 ? '10⁻¹⁵' : ''", "title": "(1/m)²s", "titlePadding": 7, "gridDash": {"condition": {"test": "datum.value > 0.5 || (datum.value > 5e-6 && datum.value < 5e-5) || (datum.value > 5e-11 && datum.value < 5e-10) || datum.value < 5e-15", "value": [1, 0]}, "value": [1, 3]}, "gridColor": {"condition": {"test": "datum.value > 0.5 || (datum.value > 5e-6 && datum.value < 5e-5) || (datum.value > 5e-11 && datum.value < 5e-10) || datum.value < 5e-15", "value": "#e3e3e3"}, "value": "#b8b8b8"}}},
"color": {"datum": "Model test", "scale": {"domain": ["Model test", "RIFLEX simulation"], "range": ["#2B83C6", "#D9452E"]}, "legend": {"title": null, "orient": "none", "legendX": 133, "legendY": 4, "symbolType": "M-1,0H4.5"}}
}
},
{
"data": {"name": "s3r"},
"mark": {"type": "line", "strokeWidth": 1, "clip": true},
"encoding": {
"x": {"field": "f", "type": "quantitative"},
"y": {"field": "p", "type": "quantitative"},
"color": {"datum": "RIFLEX simulation"}
}
}
]
}
]
}
